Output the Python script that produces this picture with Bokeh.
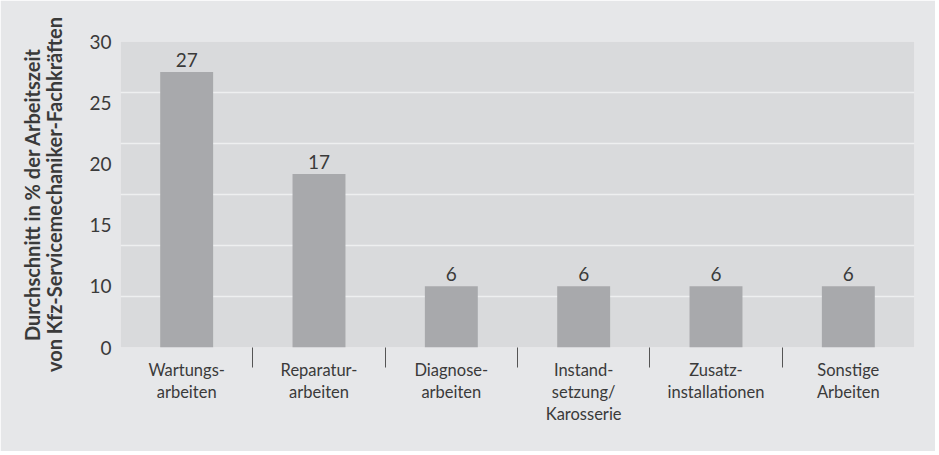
import numpy as np
from bokeh.plotting import figure
from bokeh.models import Range1d, FixedTicker
from bokeh.core.properties import value
from bokeh.embed import file_html
from bokeh.resources import INLINE

# ---- data ----
categories = ["Wartungs-\narbeiten", "Reparatur-\narbeiten", "Diagnose-\narbeiten",
              "Instand-\nsetzung/\nKarosserie", "Zusatz-\ninstallationen", "Sonstige\nArbeiten"]
values = [27, 17, 6, 6, 6, 6]
value_labels = ["27", "17", "6", "6", "6", "6"]
y_tick_labels = ["0", "10", "15", "20", "25", "30"]
y_axis_title = "Durchschnitt in % der Arbeitszeit\nvon Kfz-Servicemechaniker-Fachkräften"

FONT = "Lato"
TEXT = "#3a3a3a"

n = len(categories)
xs = np.arange(n) + 0.5
y_max = 30
y_tick_pos = np.linspace(0, y_max, len(y_tick_labels))

p = figure(frame_width=794, frame_height=306,
           x_range=Range1d(0, n), y_range=Range1d(0, y_max),
           output_backend="svg", toolbar_location=None,
           min_border_left=120, min_border_right=21,
           min_border_top=41, min_border_bottom=104)

p.background_fill_color = "#d9dadc"
p.border_fill_color = "#e6e7e9"
p.outline_line_color = None

p.vbar(x=xs, top=values, width=0.4, fill_color="#a8a9ac", line_color=None)
p.text(x=xs, y=values, text=value_labels, text_align="center", text_baseline="bottom",
       y_offset=-5, text_font=value(FONT), text_font_size="19px", text_color=TEXT)

# x axis
xa = p.xaxis[0]
xa.ticker = FixedTicker(ticks=list(xs), minor_ticks=list(np.arange(1, n)))
xa.major_label_overrides = {float(x): c for x, c in zip(xs, categories)}
xa.major_tick_out = 0
xa.major_tick_in = 0
xa.minor_tick_out = 20
xa.minor_tick_in = 0
xa.minor_tick_line_color = "#555555"
xa.minor_tick_line_width = 1
xa.axis_line_color = None
xa.major_label_standoff = -8
xa.major_label_text_font = FONT
xa.major_label_text_font_size = "16.5px"
xa.major_label_text_color = TEXT
xa.major_label_text_line_height = 1.1

# y axis
ya = p.yaxis[0]
ya.ticker = FixedTicker(ticks=list(y_tick_pos))
ya.major_label_overrides = {float(t): l for t, l in zip(y_tick_pos, y_tick_labels)}
ya.major_tick_out = 0
ya.major_tick_in = 0
ya.minor_tick_out = 0
ya.minor_tick_in = 0
ya.axis_line_color = None
ya.major_label_standoff = 9
ya.major_label_text_font = FONT
ya.major_label_text_font_size = "19px"
ya.major_label_text_color = TEXT
ya.axis_label = y_axis_title
ya.axis_label_text_font = FONT
ya.axis_label_text_font_style = "bold"
ya.axis_label_text_font_size = "20px"
ya.axis_label_text_line_height = 0.92
ya.axis_label_text_color = TEXT
ya.axis_label_standoff = 20

# grid
p.xgrid.grid_line_color = None
p.ygrid.ticker = FixedTicker(ticks=[5, 10, 15, 20, 25])
p.ygrid.grid_line_color = "#eeeff0"
p.ygrid.grid_line_width = 1.5

open("out.html", "w").write(file_html(p, INLINE))
